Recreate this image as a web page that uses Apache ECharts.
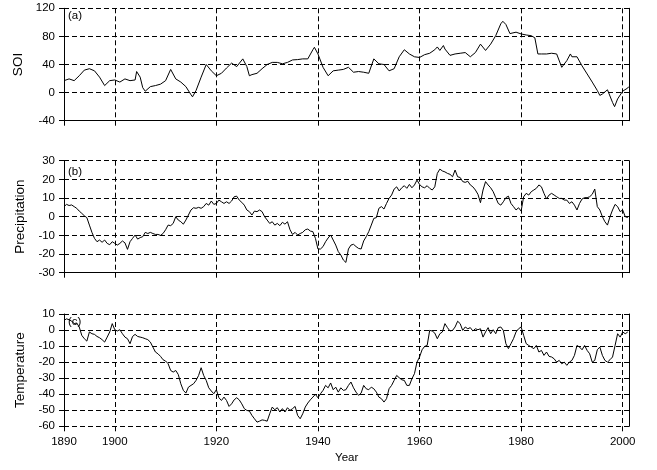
<!DOCTYPE html>
<html><head><meta charset="utf-8">
<script src="https://cdn.jsdelivr.net/npm/echarts@6/dist/echarts.min.js"></script>
<style>html,body{margin:0;padding:0;background:#fff}#c{width:657px;height:470px}</style>
</head><body><div id="c"></div>
<script>
// ---- data ----
const soiYears = [1890,1891,1892,1893,1894,1895,1896,1897,1898,1899,
1900,1901,1902,1903,1904,1904.3,1905,1905.5,1906,1907,1908,1909,
1910,1911,1912,1913,1914,1915,1915.3,1916,1917,1918,1918.2,1919,
1920,1921,1922,1923,1924,1925.2,1926,1926.5,1927,1928,1929,
1930,1931,1932,1933,1934,1935,1936,1937,1938,1939,1939.3,
1940,1941,1942,1943,1944,1945,1946,1947,1948,1949,
1950,1951,1952,1953,1954,1955,1956,1957,1958,1959,
1960,1961,1962,1963,1963.5,1964,1964.7,1965,1966,1967,1968,1969,
1970,1971,1972,1973,1974,1975,1976,1976.4,1977,1977.8,1979,
1980,1981,1982,1982.7,1983.3,1984,1985,1986,1987,1988,1989,1989.7,
1990,1991,1992,1993,1994,1995,1995.5,1996,1997,1998,1998.4,1999,
2000,2001,2001.2];
const soiValues = [17,19.5,17,24,32,34,31,22,10,17,
18,15,19.5,17,18,30,22,7,2,8.5,10,12,
17,33,19.5,15,8.5,-3,-6,3,22,40,42,31,
24,27.5,35,42,37,48,37,24,25.6,27.5,34,
40,43,43,41,43,46.5,47,48,48,61,64.5,
55,36,24,31,32,33,36,29,30,29,
27.5,48,41,40,31,34,51,61,55,51,
50,54,56,61,65,60,67,62,53,55,56,57,
51,57,69,60,69,81,98,101.5,97,84,86,
83.5,82,81,78,55,55,55,56,55,36,45.5,55,
51,51,38,26.5,15,3,-4,-2,4,-14,-20,-9,
2,6.6,8.5];

// Precipitation and temperature: half-yearly readings from 1890 to 2001
const halfYearStart = 1890;
const halfYearStep = 0.5;
const precipValues = [
5.4,6.6,6,6.3,5.4,4.5,3,1.8,0.5,-0.5,-4.5,-8.4,-11.6,-13.4,-12.5,-13.7,-12.5,-14.3,-15,-13.4,
-14.3,-15.2,-14.3,-13,-14,-17.5,-13.4,-11.6,-9.8,-12,-11.2,-10.7,-8.4,-9,-8.4,-9,-9.5,-9.5,-10,-9,
-7,-4.5,-4.8,-3.6,0,-1.8,-2.7,-4,-1.8,0.9,3.6,4.8,4.5,5,4.5,5.4,7.1,6.2,8.4,6.6,
7.1,8.9,8,7.1,8,7.1,8.4,10.7,11,8.9,7.7,6.2,3.6,2.7,0.9,3,2.7,3.6,2.7,0,
-1.8,-3.6,-2.7,-4.5,-3.6,-4.8,-3,-4,-2.7,-7,-9.5,-8.4,-9.8,-9,-8.4,-7,-6.6,-7.7,-8,-11.6,
-17.3,-17.3,-16,-13.4,-11.4,-9.8,-12.5,-15.2,-18.7,-20.5,-23.2,-24.5,-17.3,-15.2,-14.8,-16,-17,-17.3,-13,-10.7,
-8,-4.5,-0.9,-0.5,4.5,5.4,4.1,7.1,9.8,11.6,14.8,16,13.8,15.5,16.6,15.2,17.3,15.5,17,19.6,
17.3,16,15.5,16.6,15.2,14.3,16,23.2,25.5,24.5,24,23.2,22.7,21.4,25,21.4,21,18.8,18.4,19,
17,16,14.3,12,7.5,14.3,18.8,17,15.5,13.4,10.2,7.1,6.2,8,10.2,11,7.1,5.4,3.6,4.8,
3,10.7,12.5,11.6,13.4,14.3,15.2,17,16,12.5,9.5,11.6,12.5,11.6,10.7,9.8,9.8,8.9,8.9,7.1,
8,6.2,3.6,7.1,9.5,10.2,10.2,10.7,12,14.8,5.4,3.6,0,-2.7,-4.5,0,3.6,6.6,5.4,2.7,
3.6,0,-0.5];
const tempValues = [
6,7,6.4,5.6,4,4.4,1.9,-3.3,-5.4,-6.9,-1.2,-2.3,-2.7,-4,-4.8,-6,-7.5,-4.4,-1.2,4,
0.2,-0.6,0.2,-2.3,-4.4,-5.4,-8.5,-4,-2.7,-4,-4.4,-4.8,-5.4,-6,-7.5,-10.6,-13.7,-14.8,-16.4,-18.5,
-19.3,-21,-25.2,-26.2,-25.2,-27.7,-33.5,-37.6,-39.3,-35.6,-34.5,-33.5,-31.4,-28.3,-23.5,-28.3,-31.4,-36,-38,-39.7,
-37.2,-42.2,-43.9,-41.8,-43.9,-47.6,-46,-43.5,-42.2,-43.5,-46,-49,-50.1,-50.5,-53.2,-55.3,-57.4,-56.8,-56,-56.3,
-56.8,-52.2,-48,-49.7,-48.4,-51.1,-49,-51.1,-48.4,-50.1,-49,-47.6,-53.2,-55.3,-52.2,-48,-45.5,-43.5,-41.8,-40.1,
-42.2,-39.7,-37.6,-34.5,-36,-33,-37.2,-35.6,-38.7,-36,-37.6,-37.2,-34.5,-32.4,-36,-38.7,-40.7,-39.3,-34.5,-36.6,
-37.2,-35.6,-36.6,-38.7,-41.8,-42.8,-44.9,-42.8,-36.6,-34.5,-31.4,-28.3,-29.7,-31,-31.4,-34.5,-34.5,-30.4,-27.2,-20,
-16.8,-12.3,-10.2,-9.6,-0.2,-0.6,-1.9,-5.4,-2.3,-1.2,4,1.5,-0.6,-0.2,1.9,5.5,4,-0.2,1.9,0.8,
1.5,-0.6,0.8,0.2,0.8,-4.4,-1.2,1.5,-2.3,0.2,-2.3,1.5,1.9,-0.2,-8.5,-11.6,-8.5,-5.4,-1.2,0.8,
1.9,-3.3,-8.5,-9.6,-10.6,-11.6,-9.6,-13.7,-12.7,-15.8,-13.7,-16.4,-16.8,-17.9,-20,-18.9,-21,-20,-22,-20,
-18.9,-15.8,-9.6,-10.6,-12.3,-9.6,-12.7,-14.8,-20,-18.9,-12.3,-10.6,-15.8,-18.9,-20,-18.5,-16.8,-9.6,-2.3,-4.4,
-1.2,-2.3,-1.2];

const xTickYears = [1890,1900,1920,1940,1960,1980,2000];
const panelNames = ['SOI','Precipitation','Temperature'];
const panelTags = ['(a)','(b)','(c)'];
const yMins = [-40,-30,-60];
const yMaxs = [120,30,10];
const yIntervals = [40,10,10];

// ---- chart ----
const FONT = '"Liberation Sans", Arial, sans-serif';
const halfYears = precipValues.map((_, i) => halfYearStart + i * halfYearStep);
const seriesData = [
  soiYears.map((y, i) => [y, soiValues[i]]),
  halfYears.map((y, i) => [y, precipValues[i]]),
  halfYears.map((y, i) => [y, tempValues[i]])
];
const gridTops = [8.3, 160.7, 314];
const gridHeights = [112.4, 112, 112.3];
const nameGaps = [36, 31, 30];
const tagTops = [9.5, 166, 316];

const dash = {color:'#000', width:1, type:[5,3]};
const option = {
  animation:false,
  backgroundColor:'#fff',
  textStyle:{fontFamily:FONT},
  title: panelTags.map((t,i)=>({text:t, left:68, top:tagTops[i], padding:0,
    textStyle:{fontSize:11.5, fontWeight:'normal', color:'#000', fontFamily:FONT}})),
  grid: gridTops.map((t,i)=>({left:64, right:27.7, top:t, height:gridHeights[i], containLabel:false})),
  xAxis: [0,1,2].map(i=>({
    type:'value', gridIndex:i, min:1890, max:2001.3, interval:10,
    axisLine:{show:i<2, onZero:false, lineStyle:{color:'#000', width:1}},
    axisTick:{show:true, length:5, customValues:xTickYears, lineStyle:{color:'#000', width:1}},
    axisLabel:{show:i===2, customValues:xTickYears, formatter:v=>String(v), color:'#000', fontSize:11.5, fontFamily:FONT, margin:10},
    splitLine:{show:true, lineStyle:dash},
    name: i===2 ? 'Year' : '', nameLocation:'middle', nameGap:25.5,
    nameTextStyle:{color:'#000', fontSize:11.5, fontFamily:FONT}
  })),
  yAxis: [0,1,2].flatMap(i=>[{
    type:'value', gridIndex:i, min:yMins[i], max:yMaxs[i], interval:yIntervals[i],
    axisLine:{show:true, onZero:false, lineStyle:{color:'#000', width:1}},
    axisTick:{show:true, length:5, lineStyle:{color:'#000', width:1}},
    axisLabel:{color:'#000', fontSize:11.5, fontFamily:FONT, margin:9},
    splitLine:{show:true, lineStyle:dash},
    name:panelNames[i], nameLocation:'middle', nameGap:nameGaps[i],
    nameTextStyle:{color:'#000', fontSize:13.5, fontFamily:FONT}
  },{
    type:'value', gridIndex:i, position:'right', min:yMins[i], max:yMaxs[i], interval:yIntervals[i],
    axisLine:{show:true, onZero:false, lineStyle:{color:'#000', width:1}},
    axisTick:{show:false}, axisLabel:{show:false}, splitLine:{show:false}
  }]),
  series: seriesData.map((d,i)=>({
    type:'line', xAxisIndex:i, yAxisIndex:i*2, data:d, showSymbol:false, symbol:'none',
    lineStyle:{color:'#000', width:1}, silent:true
  }))
};
const chart = echarts.init(document.getElementById('c'), null, {renderer:'canvas'});
chart.setOption(option);
</script>
</body></html>
